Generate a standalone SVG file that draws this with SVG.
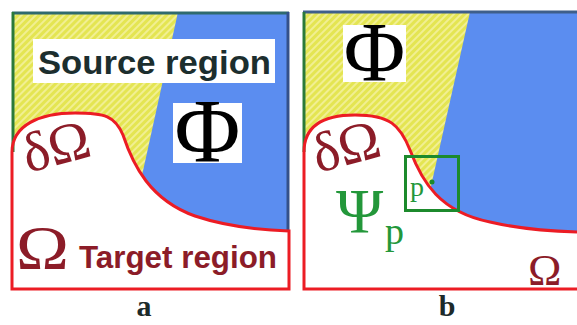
<svg xmlns="http://www.w3.org/2000/svg" width="577" height="325" viewBox="0 0 577 325">
<style>
.yel{fill:url(#hatch)}
.blue{fill:#5b8df0}
.red{fill:none;stroke:#ec1c24;stroke-width:3}
.wbox{fill:#ffffff}
.lbl{font-family:"Liberation Sans",Arial,sans-serif;font-weight:bold}
.ser{font-family:"Liberation Serif","Times New Roman",serif}
.dred{fill:#8c1c28}
.grn{fill:#23973a}
.cap{font-family:"Liberation Serif","Times New Roman",serif;font-weight:bold;font-size:30px;fill:#1c2a2a;text-anchor:middle}
</style>
<defs>
<pattern id="hatch" patternUnits="userSpaceOnUse" width="5" height="5" patternTransform="rotate(45)">
<rect width="5" height="5" fill="#e4e552"/>
<rect width="2" height="5" fill="#f1ef92"/>
</pattern>
<clipPath id="clipA"><rect x="12" y="12" width="277" height="277"/></clipPath>
<clipPath id="clipB"><rect x="303" y="12" width="274" height="277"/></clipPath>
</defs>

<g id="panel-a">
<g clip-path="url(#clipA)">
<rect x="12" y="12" width="277" height="277" class="yel"/>
<polygon points="178,12 289,12 289,289 117,289" class="blue"/>
<path d="M12,152 C12,125 40,113 75,113 C105,113 115,116 123,135 C133,165 150,200 195,216 C228,227 260,230 289,231 L289,289 L12,289 Z" fill="#ffffff"/>
</g>
<line x1="12" y1="13" x2="289" y2="13" stroke="#2f6a6e" stroke-width="3"/>
<line x1="13" y1="12" x2="13" y2="152" stroke="#2a7a3a" stroke-width="3"/>
<line x1="288" y1="12" x2="288" y2="231" stroke="#34508a" stroke-width="3"/>
<path d="M12,152 C12,125 40,113 75,113 C105,113 115,116 123,135 C133,165 150,200 195,216 C228,227 260,230 289,231 L289,289 L12,289 Z" class="red"/>
<rect x="33" y="39" width="242" height="44" class="wbox"/>
<text x="38" y="74" class="lbl" font-size="34" fill="#1c2e2e" textLength="233" lengthAdjust="spacingAndGlyphs">Source region</text>
<rect x="173" y="103" width="69" height="60" class="wbox"/>
<text x="207.5" y="162" class="ser" font-size="90" fill="#000" text-anchor="middle">Φ</text>
<text transform="translate(28,173) rotate(-15)" class="ser dred" font-size="56">δΩ</text>
<text transform="translate(16,268) scale(1.15,1)" class="ser dred" font-size="62">Ω</text>
<text x="79" y="268" class="lbl dred" font-size="31" textLength="198" lengthAdjust="spacingAndGlyphs">Target region</text>
</g>

<g id="panel-b">
<g clip-path="url(#clipB)">
<rect x="303" y="12" width="274" height="277" class="yel"/>
<polygon points="470,12 577,12 577,289 408,289" class="blue"/>
<path d="M303,152 C303,125 325,115 355,115 C390,115 400,125 410,150 C422,182 440,212 490,222 C520,229 545,231 577,232 L577,289 L303,289 Z" fill="#ffffff"/>
</g>
<line x1="303" y1="12" x2="577" y2="12" stroke="#3f5f8a" stroke-width="3"/>
<line x1="304" y1="12" x2="304" y2="152" stroke="#2a7a3a" stroke-width="3"/>
<path d="M304,152 C304,125 325,115 355,115 C390,115 400,125 410,150 C422,182 440,212 490,222 C520,229 545,231 577,232" class="red"/>
<path d="M304,152 L304,289 L577,289" class="red"/>
<rect x="343" y="25" width="63" height="57" class="wbox"/>
<text x="374.5" y="81" class="ser" font-size="84" fill="#000" text-anchor="middle">Φ</text>
<text transform="translate(318,173) rotate(-15)" class="ser dred" font-size="56">δΩ</text>
<rect x="405.5" y="156.5" width="53" height="54" fill="none" stroke="#1c8a2c" stroke-width="3"/>
<circle cx="432" cy="182" r="2.5" fill="#1c8a2c"/>
<text x="410" y="196" class="ser grn" font-size="28">p</text>
<text x="336" y="233" class="ser grn" font-size="64">Ψ</text>
<text x="385" y="244" class="ser grn" font-size="38">p</text>
<text x="528" y="285" class="ser dred" font-size="45">Ω</text>
</g>

<g id="captions">
<text x="144" y="316" class="cap">a</text>
<text x="447" y="316" class="cap">b</text>
</g>
</svg>
